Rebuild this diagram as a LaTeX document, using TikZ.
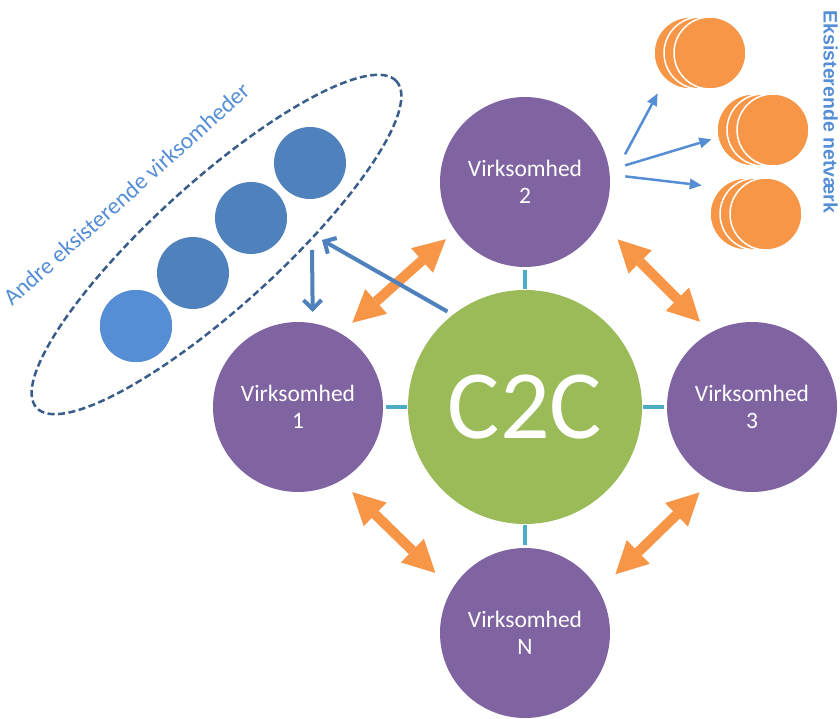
\documentclass[tikz,border=0pt]{standalone}
\usepackage{fontspec}
\setmainfont{Carlito}
\newfontfamily\netsans{Liberation Sans}
\usetikzlibrary{arrows.meta, positioning, shapes.geometric, calc}
\definecolor{firmpurple}{HTML}{8064A2}
\definecolor{hubgreen}{HTML}{9BBB59}
\definecolor{netorange}{HTML}{F79646}
\definecolor{tiecyan}{HTML}{4BACC6}
\definecolor{peerblue}{HTML}{4F81BD}
\definecolor{peerlight}{HTML}{558ED5}
\definecolor{ringblue}{HTML}{385D8A}

\begin{document}
\begin{tikzpicture}[
        x=1pt, y=-1pt,
        firm/.style={circle, fill=firmpurple, minimum size=170pt, inner sep=0pt, text=white, align=center, font=\fontsize{23.5}{27}\selectfont},
        hub/.style={circle, fill=hubgreen, minimum size=234pt, inner sep=0pt, text=white, font=\fontsize{98}{98}\selectfont},
        peer/.style={circle, fill=peerblue, minimum size=72pt, inner sep=0pt},
        disc/.style={circle, fill=netorange, draw=white, line width=1.5pt, minimum size=72pt, inner sep=0pt},
        grpring/.style={ellipse, draw=ringblue, line width=2.5pt, dash pattern=on 7pt off 3.5pt, minimum width=486pt, minimum height=125pt, inner sep=0pt},
        tie/.style={draw=tiecyan, line width=4pt},
        twoway/.style={draw=netorange, line width=10pt, {Triangle[length=32pt,width=33pt,line width=0pt]}-{Triangle[length=32pt,width=33pt,line width=0pt]}},
        flow/.style={draw=peerblue, line width=4pt, -{Straight Barb[length=9pt,width=18pt]}},
        spread/.style={draw=peerlight, line width=2.5pt, -{Triangle[length=12pt,width=11pt,line width=0pt]}}
    ]
        \useasboundingbox (0,0) rectangle (840,719);

        % firms round the hub
        \node[hub] (c2c) at (525,407) {C2C};
        \node[firm] (v2) at (525,182) {Virksomhed\\2};
        \node[firm] (v1) at (298,407) {Virksomhed\\1};
        \node[firm] (v3) at (752,407) {Virksomhed\\3};
        \node[firm] (vn) at (525,633) {Virksomhed\\N};

        \foreach \f in {v1, v2, v3, vn} {
            \draw[tie, shorten <=1pt, shorten >=3pt] (c2c) -- (\f);
        }

        \draw[twoway, shorten <=15.7pt, shorten >=12.5pt] (v1.60) -- (v2.-145);
        \draw[twoway, shorten <=24.5pt, shorten >=15.1pt] (v2.-28.7) -- (v3.119);
        \draw[twoway, shorten <=16.2pt, shorten >=23.2pt] (v1.-60) -- (vn.149.8);
        \draw[twoway, shorten <=15.7pt, shorten >=23.1pt] (v3.-119.5) -- (vn.30.3);

        % other firms
        \node[grpring, rotate=42.2] (grp) at (216.5,244.5) {};
        \foreach \i/\x/\y in {1/136/326, 2/193/273, 3/251/218, 4/310/163} {
            \node[peer] (p\i) at (\x,\y) {};
        }
        \node[peer, fill=peerlight] at (p1) {};
        \node[rotate=41.8, anchor=base west, inner sep=0pt, text=peerlight, font=\fontsize{23.5}{27}\selectfont] (grptext) at (12,307) {Andre eksisterende virksomheder};

        \coordinate (grpin) at (322,240);
        \coordinate (grpout) at (312,250);
        \draw[flow, shorten <=6.3pt] (c2c.128.3) -- (grpin);
        \draw[flow, shorten >=11.2pt] (grpout) -- (v1.80.5);

        % existing networks
        \foreach \i/\x/\y in {1/690/53, 2/753/130, 3/746/214} {
            \node[disc] (net\i) at (\x,\y) {};
            \node[disc] at (\x+10,\y) {};
            \node[disc] at (\x+20,\y) {};
        }
        \draw[spread, shorten <=31.4pt, shorten >=15.5pt] (v2.0.3) -- (net1.-133);
        \draw[spread, shorten <=16.5pt, shorten >=6pt] (v2.8.3) -- (net2.-168.3);
        \draw[spread, shorten <=15.5pt, shorten >=18.9pt] (v2.5.4) -- (net3.134.7);
        \node[rotate=-90, inner sep=0pt, text=peerlight, font=\netsans\bfseries\fontsize{19.5}{22}\selectfont] (nettext) at (830.5,112) {Eksisterende netværk};
\end{tikzpicture}
\end{document}
